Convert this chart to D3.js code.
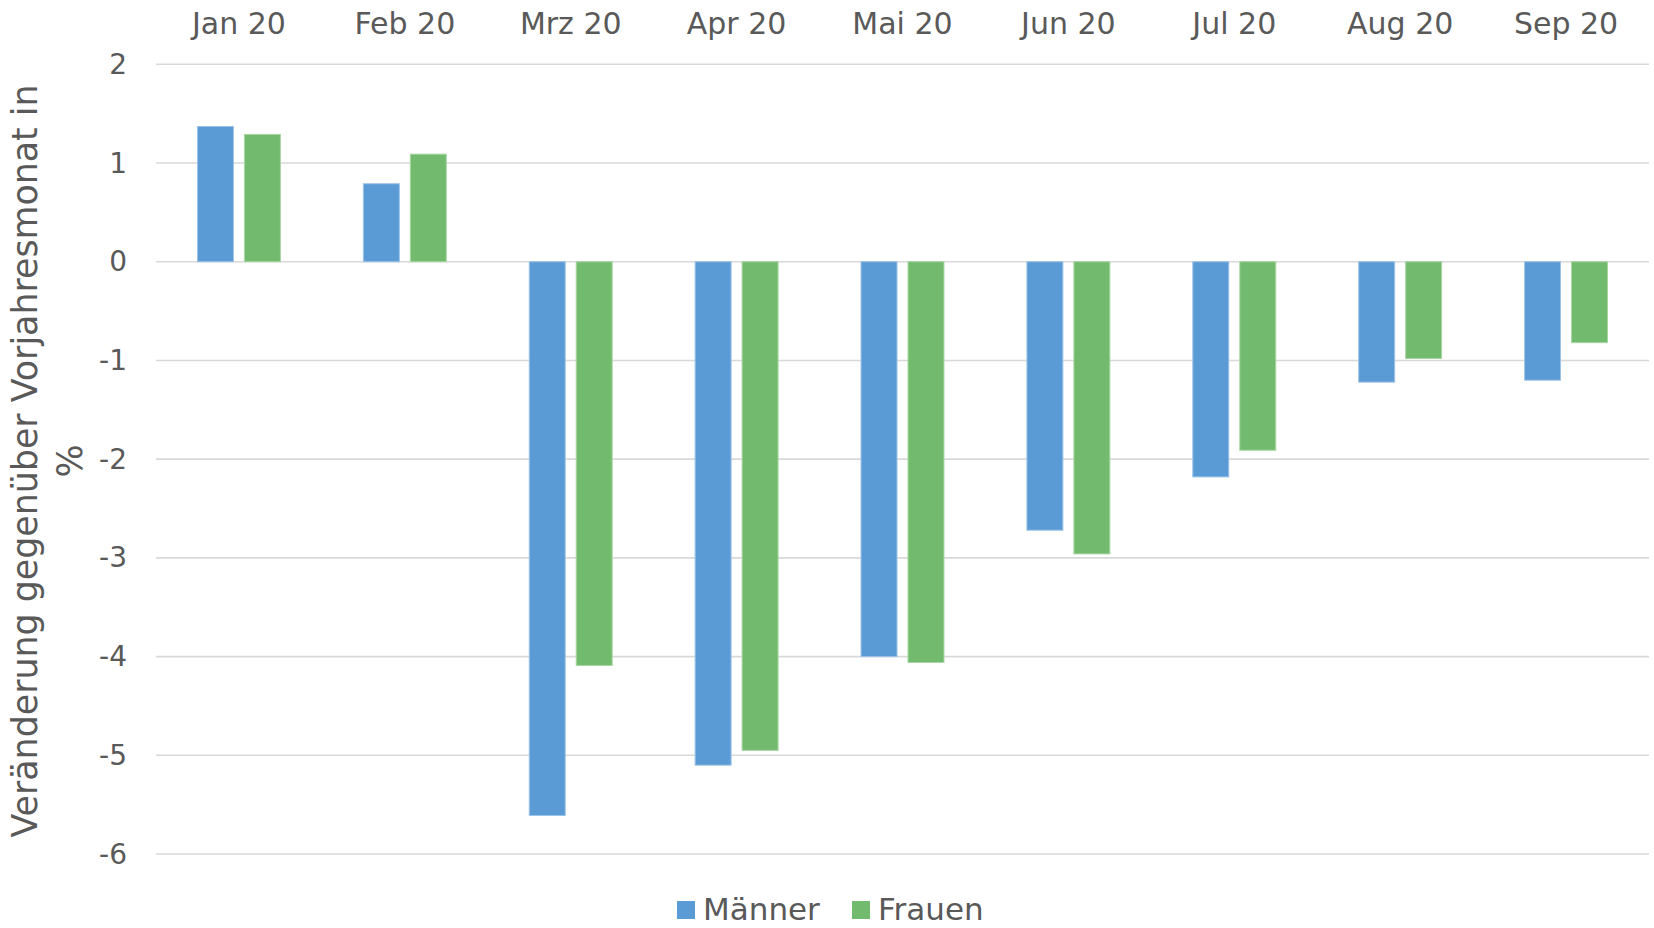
<!DOCTYPE html>
<html>
<head>
<meta charset="utf-8">
<script src="https://cdn.jsdelivr.net/npm/d3@7"></script>
<style>
  html, body { margin: 0; padding: 0; background: #ffffff; }
  svg { display: block; }
  text { font-family: "DejaVu Sans", "Noto Sans", sans-serif; fill: #595959; }
</style>
</head>
<body>
<svg id="chart" width="1654" height="928"></svg>
<script>
// ---- data ----
const months = ["Jan 20", "Feb 20", "Mrz 20", "Apr 20", "Mai 20", "Jun 20", "Jul 20", "Aug 20", "Sep 20"];
const seriesNames = ["Männer", "Frauen"];
const maenner = [1.37, 0.79, -5.61, -5.10, -4.00, -2.72, -2.18, -1.22, -1.20];
const frauen  = [1.29, 1.09, -4.09, -4.95, -4.06, -2.96, -1.91, -0.98, -0.82];
const yTicks = [2, 1, 0, -1, -2, -3, -4, -5, -6];
const yTitleLines = ["Veränderung gegenüber Vorjahresmonat in", "%"];

const colors = { "Männer": "#5B9BD5", "Frauen": "#72BA6E" };
const strokes = { "Männer": "#9CC3E8", "Frauen": "#A8D7A3" };

const rows = months.map((m, i) => ({ month: m, values: [
  { key: "Männer", value: maenner[i] },
  { key: "Frauen", value: frauen[i] }
]}));

const svg = d3.select("#chart");
const plotLeft = 156, plotRight = 1649, plotTop = 64.3, plotBottom = 854;

const x0 = d3.scaleBand().domain(months).range([plotLeft, plotRight])
  .paddingInner(0.494).paddingOuter(0.247);
const x1 = d3.scaleBand().domain(seriesNames).range([0, x0.bandwidth()])
  .paddingInner(0.213).paddingOuter(0);
const y = d3.scaleLinear().domain([-6, 2]).range([plotBottom, plotTop]);

// gridlines
svg.append("g").selectAll("line").data(yTicks).join("line")
  .attr("x1", plotLeft).attr("x2", plotRight)
  .attr("y1", d => y(d)).attr("y2", d => y(d))
  .attr("stroke", "#d9d9d9").attr("stroke-width", 1.6);

// y tick labels
svg.append("g").selectAll("text").data(yTicks).join("text")
  .attr("x", 127).attr("y", d => y(d))
  .attr("text-anchor", "end").attr("dominant-baseline", "central")
  .style("font-size", "28px")
  .text(d => d);

// x labels at top
svg.append("g").selectAll("text").data(months).join("text")
  .attr("x", d => x0(d) + x0.bandwidth() / 2).attr("y", 34)
  .attr("text-anchor", "middle")
  .style("font-size", "30px")
  .text(d => d);

// bars
const groups = svg.append("g").selectAll("g").data(rows).join("g")
  .attr("transform", d => `translate(${x0(d.month)},0)`);
groups.selectAll("rect").data(d => d.values).join("rect")
  .attr("x", d => x1(d.key) + 0.5)
  .attr("width", x1.bandwidth() - 1)
  .attr("y", d => Math.min(y(d.value), y(0)))
  .attr("height", d => Math.abs(y(d.value) - y(0)))
  .attr("fill", d => colors[d.key])
  .attr("stroke", d => strokes[d.key])
  .attr("stroke-width", 1);

// y axis title
const title = svg.append("text")
  .attr("transform", "translate(0,461) rotate(-90)")
  .attr("text-anchor", "middle")
  .style("font-size", "34.8px");
title.selectAll("tspan").data(yTitleLines).join("tspan")
  .attr("x", 0)
  .attr("y", (d, i) => 37 + i * 45)
  .text(d => d);

// legend
const legendItems = [{ key: "Männer", sx: 677, tx: 703 }, { key: "Frauen", sx: 852, tx: 878 }];
const lg = svg.append("g");
lg.selectAll("rect").data(legendItems).join("rect")
  .attr("x", d => d.sx).attr("y", 901).attr("width", 18).attr("height", 18)
  .attr("fill", d => colors[d.key]);
lg.selectAll("text").data(legendItems).join("text")
  .attr("x", d => d.tx).attr("y", 920)
  .style("font-size", "31px")
  .text(d => d.key);
</script>
</body>
</html>
